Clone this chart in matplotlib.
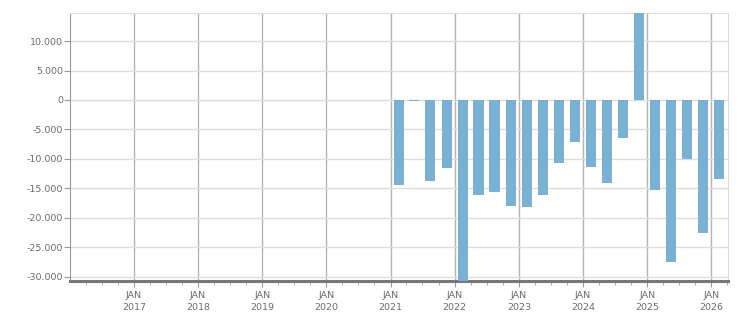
import datetime as dt
import matplotlib
matplotlib.use("Agg")
import matplotlib.pyplot as plt
import matplotlib.dates as mdates
from matplotlib.ticker import FuncFormatter, MultipleLocator

# quarterly values, Q1 2021 .. Q1 2026
quarters = ["2021Q1", "2021Q2", "2021Q3", "2021Q4",
            "2022Q1", "2022Q2", "2022Q3", "2022Q4",
            "2023Q1", "2023Q2", "2023Q3", "2023Q4",
            "2024Q1", "2024Q2", "2024Q3", "2024Q4",
            "2025Q1", "2025Q2", "2025Q3", "2025Q4",
            "2026Q1"]
values = [-14400, -100, -13750, -11500,
          -32000, -16100, -15600, -17950,
          -18100, -16100, -10650, -7100,
          -11350, -14050, -6400, 15000,
          -15250, -27450, -9950, -22550,
          -13350]


def quarter_mid(q):
    year, n = int(q[:4]), int(q[-1])
    start = dt.date(year, 3 * (n - 1) + 1, 1)
    return start + dt.timedelta(days=45)


dates = [quarter_mid(q) for q in quarters]

label_col = "#6c6a72"
fig = plt.figure(figsize=(7.51, 3.13), dpi=100)
ax = fig.add_axes([70 / 751, 1 - 281 / 313, 658 / 751, 268 / 313])

ax.bar(dates, values, width=57, color="#7ab0d2", zorder=3)

ax.set_xlim(dt.date(2016, 1, 3), dt.date(2026, 4, 5))
ax.set_ylim(-30730, 14770)

ax.yaxis.set_major_locator(MultipleLocator(5000))
ax.yaxis.set_major_formatter(FuncFormatter(lambda v, p: f"{v:,.0f}".replace(",", ".")))
ax.xaxis.set_major_locator(mdates.YearLocator())
ax.xaxis.set_minor_locator(mdates.MonthLocator(bymonth=[4, 7, 10]))
ax.xaxis.set_major_formatter(mdates.DateFormatter("JAN\n%Y"))

ax.grid(axis="y", color="#dddddd", lw=1, zorder=0)
ax.grid(axis="x", which="major", color="#b4b4b4", lw=1, zorder=1)

for s in ["top", "right"]:
    ax.spines[s].set_color("#dddddd")
ax.spines["left"].set_color("#9a9a9a")
ax.spines["bottom"].set_color("#777777")
ax.spines["bottom"].set_linewidth(2.2)

ax.tick_params(axis="y", length=4, color="#9a9a9a", labelsize=6.8, labelcolor=label_col, pad=1)
ax.tick_params(axis="x", which="major", length=4, color="#9a9a9a", labelsize=6.8,
               labelcolor=label_col, pad=3)
ax.tick_params(axis="x", which="minor", length=3, color="#9a9a9a")
for t in ax.get_xticklabels():
    t.set_linespacing(1.4)

fig.savefig("out.png", dpi=100)
